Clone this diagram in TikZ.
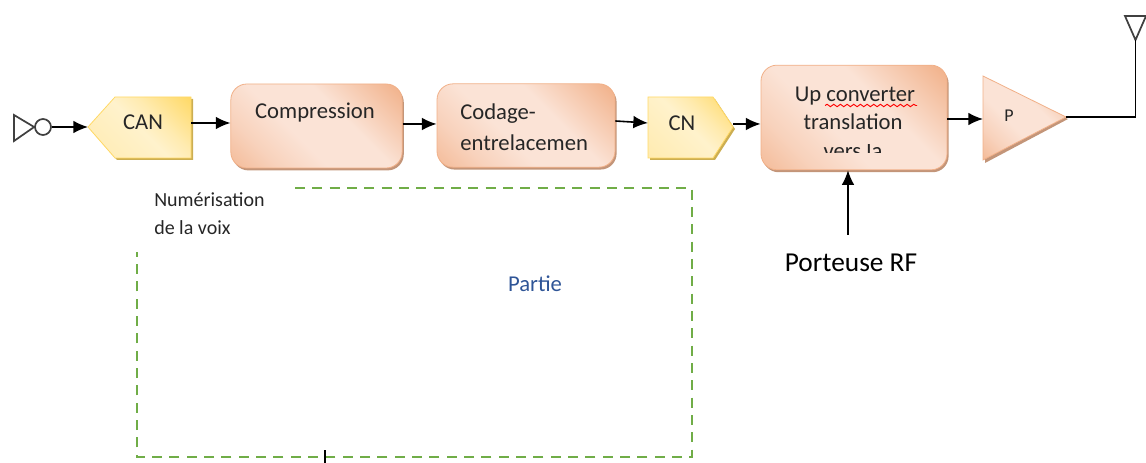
\documentclass[tikz,border=0pt]{standalone}
\usepackage{fontspec}
\setmainfont{Carlito}
\usetikzlibrary{shadows,decorations.pathmorphing,arrows.meta}
\definecolor{txt}{HTML}{262626}
\definecolor{dashg}{HTML}{70AD47}
\definecolor{bluet}{HTML}{2F5597}
\definecolor{boxo}{HTML}{F1B088}
\definecolor{boxbl}{HTML}{F4BC9A}
\definecolor{boxmid}{HTML}{F8D2BC}
\definecolor{boxlight}{HTML}{FBE3D6}
\definecolor{yellowd}{HTML}{FFD966}
\definecolor{yellowl}{HTML}{FFF2CC}
\definecolor{yellowb}{HTML}{FFEBB0}
\pgfdeclarehorizontalshading{orangeshade}{100bp}{
 color(0bp)=(boxbl); color(15bp)=(boxbl);
 color(28bp)=(boxmid); color(42bp)=(boxlight); color(60bp)=(boxlight); color(85bp)=(boxo); color(100bp)=(boxo)}
\pgfdeclarehorizontalshading{yellowshade}{100bp}{
 color(0bp)=(yellowb); color(15bp)=(yellowb); color(50bp)=(yellowl); color(62bp)=(yellowb); color(85bp)=(yellowd); color(100bp)=(yellowd)}
\tikzset{
 x=0.75pt,y=-0.75pt,
 lbl/.style={text=txt,inner sep=0pt,font=\fontsize{17}{19}\selectfont},
 small/.style={text=txt,inner sep=0pt,font=\fontsize{15}{17}\selectfont},
 blockbox/.style={draw=boxo,line width=0.6pt,rounded corners=12pt,shading=orangeshade,shading angle=45,
   drop shadow={shadow xshift=1.2pt,shadow yshift=-1.8pt,fill=black!22!boxo,opacity=.9},inner sep=0pt},
 penta/.style={draw=yellowd,line width=0.6pt,shading=yellowshade,shading angle=45},
 shadowfill/.style={fill=black!20!yellowd},
 link/.style={draw=black,line width=1.2pt,-{Latex[length=11pt,width=9.5pt]}},
 wire/.style={draw=black,line width=1.1pt},
 sym/.style={draw=black!75,line width=1.3pt},
 group/.style={draw=dashg,line width=1.2pt,dash pattern=on 7.5pt off 5.5pt},
}
\begin{document}
\begin{tikzpicture}
\useasboundingbox (0,0) rectangle (1146,463);
% dashed group
\coordinate (gA) at (295,188);
\coordinate (gB) at (692,188);
\coordinate (gC) at (692,457);
\coordinate (gD) at (137,457);
\coordinate (gE) at (137,252);
\draw[group] (gA) -- (gB) -- (gC) -- (gD) -- (gE);
% caret
\coordinate (caretT) at (325,450);
\coordinate (caretB) at (325,463);
\draw[black,line width=0.8pt] (caretT) -- (caretB);
% microphone
\node[circle,draw=black!75,line width=1.3pt,minimum size=12pt,inner sep=0pt] (mic) at (43,127) {};
\coordinate (micA) at (14,115);
\coordinate (micB) at (14,141);
\draw[sym] (mic.west) -- (micA) -- (micB) -- cycle;
% CAN pentagon
\path[shadowfill] (90,129) -- (117,160) -- (193,160) -- (193,99) -- (117,99) -- cycle;
\path[penta] (88,127) -- (115,97) -- (191,97) -- (191,158) -- (115,158) -- cycle;
\node[lbl] (can) at (143,122) {CAN};
\coordinate (canW) at (88,127);
\coordinate (canE) at (191,123);
% compression
\node[blockbox,minimum width=128.5pt,minimum height=63pt] (cmp) at (316.5,126) {};
\node[lbl] (cmpt) at (315,113) {Compression};
% codage
\node[blockbox,minimum width=133.5pt,minimum height=62.5pt] (cod) at (526,125.5) {};
\node[lbl,anchor=base west] (cod1) at (460,119.5) {Codage-};
\node[lbl,anchor=base west] (cod2) at (460,151) {entrelacemen};
% CN pentagon
\path[shadowfill] (650,99) -- (715,99) -- (735,129) -- (715,160) -- (650,160) -- cycle;
\path[penta] (648,97) -- (713,97) -- (733,127) -- (713,158) -- (648,158) -- cycle;
\node[lbl] (cn) at (682,123) {CN};
\coordinate (cnW) at (648,123);
\coordinate (cnE) at (733,124);
% up converter
\node[blockbox,minimum width=139.5pt,minimum height=78.5pt] (up) at (854,117.5) {};
\node[lbl,anchor=base] (up1) at (855,101.5) {Up converter};
\node[lbl,anchor=base] (up2) at (853,130) {translation};
\begin{scope}
\clip (780,145) rectangle (930,153);
\node[lbl,anchor=base] (up3) at (853,159) {vers la};
\end{scope}
\coordinate (sqA) at (825,105.5);
\coordinate (sqB) at (917,105.5);
\draw[red,line width=0.7pt,decorate,decoration={snake,amplitude=0.9pt,segment length=5pt}] (sqA) -- (sqB);
% amplifier
\path[fill=black!22!boxo,opacity=.9] (985,79) -- (1068,119) -- (985,163) -- cycle;
\path[draw=boxo,line width=0.6pt,shading=orangeshade,shading angle=45] (983,76) -- (1066,117) -- (983,160) -- cycle;
\node[text=txt,inner sep=0pt,font=\fontsize{13.5}{15}\selectfont] (p) at (1009,116) {P};
\coordinate (ampW) at (983,119);
\coordinate (ampE) at (1066,117);
% antenna
\coordinate (antTip) at (1135.5,40);
\coordinate (antL) at (1125,16);
\coordinate (antR) at (1146,16);
\coordinate (antC) at (1135.5,117);
\draw[sym] (antL) -- (antR) -- (antTip) -- cycle;
\draw[wire] (ampE) -- (antC) -- (antTip);
% arrows
\draw[link] (mic.east) -- (canW);
\draw[link] (canE) -- (cmp.west |- canE);
\coordinate (cmpE) at (cmp.east |- 0,124);
\draw[link] (cmpE) -- (cod.west |- cmpE);
\coordinate (codE) at (cod.east |- 0,121);
\draw[link] (codE) -- (cnW);
\draw[link] (cnE) -- (up.west |- cnE);
\coordinate (upE) at (up.east |- 0,119);
\draw[link] (upE) -- (ampW);
% RF
\node[text=black,inner sep=0pt,font=\fontsize{20.5}{23}\selectfont] (rf) at (851,263) {Porteuse RF};
\coordinate (rfS) at (848,235);
\draw[link] (rfS) -- (rfS |- up.south);
% labels
\node[small,anchor=base west] (n1) at (154,207) {Numérisation};
\node[small,anchor=base west] (n2) at (154,235) {de la voix};
\node[text=bluet,inner sep=0pt,font=\fontsize{17}{19}\selectfont] (part) at (535,284) {Partie};
\end{tikzpicture}
\end{document}
